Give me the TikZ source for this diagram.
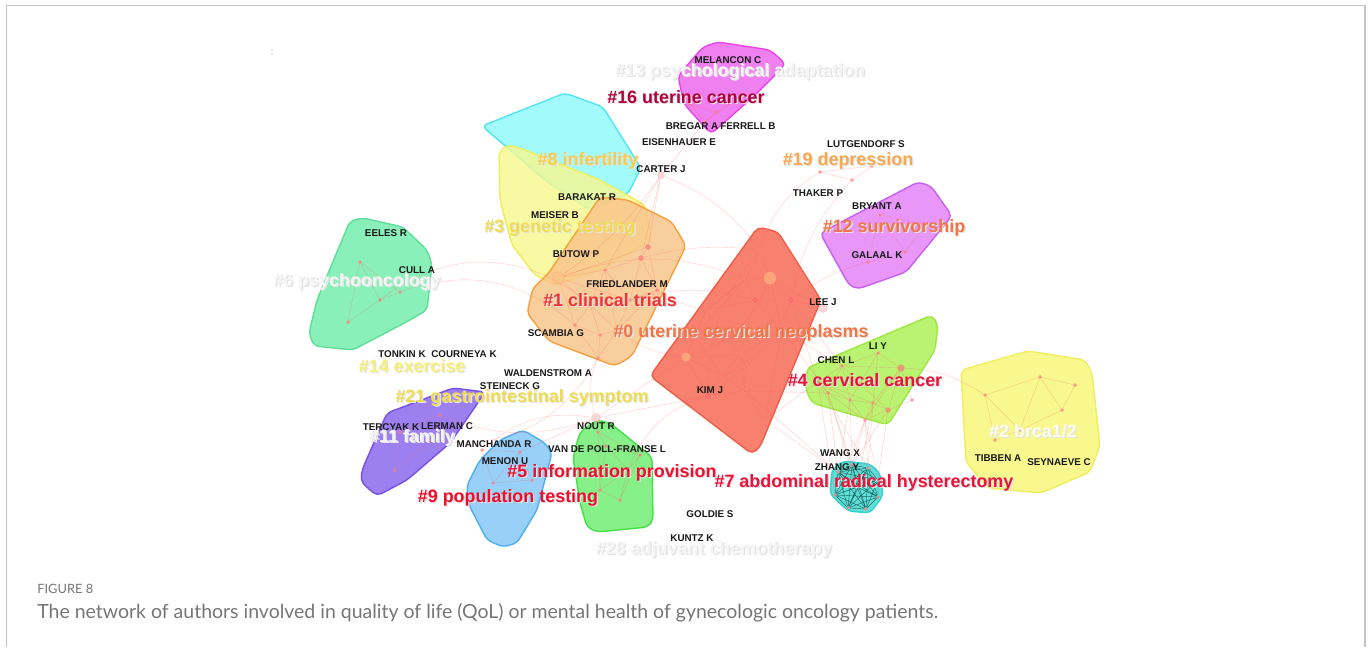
\documentclass[tikz,border=0pt]{standalone}
\usepackage{fontspec}
\setmainfont{Liberation Sans}
\newfontfamily\capfont{Lato}

\definecolor{framegray}{HTML}{C4C4C4}
\definecolor{capgray}{HTML}{767676}
\definecolor{cyanfill}{HTML}{A2FAFA}\definecolor{cyanline}{HTML}{52E6F0}
\definecolor{yelfill}{HTML}{F8F88E}\definecolor{yelline}{HTML}{F0EE5C}
\definecolor{orafill}{HTML}{F8C488}\definecolor{oraline}{HTML}{F6A03E}
\definecolor{redfill}{HTML}{F8806E}\definecolor{redline}{HTML}{F05E48}
\definecolor{limefill}{HTML}{BAF272}\definecolor{limeline}{HTML}{9EE842}
\definecolor{purfill}{HTML}{E896F8}\definecolor{purline}{HTML}{C860F0}
\definecolor{magfill}{HTML}{F080F0}\definecolor{magline}{HTML}{E844E8}
\definecolor{tealfill}{HTML}{5EE0D8}\definecolor{tealline}{HTML}{30D2D2}
\definecolor{mintfill}{HTML}{88F0B8}\definecolor{mintline}{HTML}{5EE098}
\definecolor{violfill}{HTML}{9C80F0}\definecolor{violline}{HTML}{7850E8}
\definecolor{bluefill}{HTML}{98D0F8}\definecolor{blueline}{HTML}{50AEF0}
\definecolor{grnfill}{HTML}{88F088}\definecolor{grnline}{HTML}{46E046}
\definecolor{crimson}{HTML}{E8143C}
\definecolor{darkcrimson}{HTML}{B0003C}
\definecolor{salmon}{HTML}{F07646}
\definecolor{tomato}{HTML}{F03436}
\definecolor{peach}{HTML}{F8A850}
\definecolor{gold}{HTML}{F8CC50}
\definecolor{lemon}{HTML}{F0DC50}
\definecolor{pale}{HTML}{F6F07A}

\tikzset{
  hull/.style={line width=0.8pt, rounded corners=3pt},
  author/.style={font=\bfseries\fontsize{5.6}{6}\selectfont, inner sep=0pt, text=black!90},
  cluster/.style={font=\bfseries\fontsize{10.2}{11}\selectfont, inner sep=0pt},
  shade/.style={cluster, text=black!11},
  vtx/.style={circle, inner sep=0pt, minimum size=2pt, fill=red!60, draw=red!40, line width=0.2pt, opacity=0.6},
  link/.style={red!60, line width=0.2pt, opacity=0.38},
  mesh/.style={black!60!teal, line width=0.25pt, opacity=0.7}
}

\begin{document}
\begin{tikzpicture}[x=0.02cm,y=-0.02cm]
\useasboundingbox (0,0) rectangle (1370,647);
\fill[white] (0,0) rectangle (1370,647);
\draw[framegray, line width=0.9pt] (6.5,647) -- (6.5,5.5) -- (1365,5.5) -- (1365,647);
\node[font=\fontsize{4}{4}\selectfont, inner sep=0pt, text=black!60] (tick) at (272,53) {;};

% cluster hulls
\draw[hull, draw=mintline, fill=mintfill] (337,252) -- (350,221) -- (363,218) -- (403,227) -- (427,250) -- (432,264) -- (427,310) -- (410,320) -- (353,350) -- (314,346) -- (309,333) -- (317,300) -- cycle;
\draw[hull, draw=violline, fill=violfill] (362,470) -- (387,413) -- (453,388) -- (485,392) -- (473,410) -- (450,443) -- (407,480) -- (377,496) -- (361,482) -- cycle;
\draw[hull, draw=blueline, fill=bluefill] (467,485) -- (480,460) -- (500,440) -- (523,430) -- (545,443) -- (552,453) -- (537,510) -- (517,543) -- (503,547) -- (487,540) -- (468,503) -- cycle;
\draw[hull, draw=grnline, fill=grnfill] (580,432) -- (597,420) -- (610,423) -- (652,457) -- (653,520) -- (648,527) -- (597,532) -- (587,527) -- (580,503) -- (573,457) -- cycle;
\draw[hull, draw=cyanline, fill=cyanfill] (482,126) -- (565,93) -- (603,107) -- (641,168) -- (628,194) -- (590,210) -- (545,180) -- cycle;
\draw[hull, draw=yelline, fill=yelfill, fill opacity=0.8] (499,152) -- (507,145) -- (520,148) -- (600,180) -- (645,205) -- (652,240) -- (600,270) -- (555,285) -- (535,275) -- (512,245) -- (500,200) -- cycle;
\draw[hull, draw=oraline, fill=orafill, fill opacity=0.82] (600,197) -- (628,200) -- (672,222) -- (686,246) -- (632,356) -- (615,366) -- (549,341) -- (527,313) -- (533,288) -- (548,274) -- cycle;
\draw[hull, draw=redline, fill=redfill] (650,376) -- (758,227) -- (778,232) -- (821,300) -- (760,447) -- (752,454) -- cycle;
\draw[hull, draw=limeline, fill=limefill] (807,368) -- (932,315) -- (938,325) -- (935,350) -- (888,425) -- (812,403) -- (806,390) -- cycle;
\draw[hull, draw=yelline, fill=yelfill] (961,370) -- (1028,351) -- (1085,360) -- (1092,373) -- (1100,446) -- (1090,472) -- (1041,493) -- (988,488) -- (966,462) -- cycle;
\draw[hull, draw=purline, fill=purfill] (820,233) -- (918,182) -- (931,186) -- (952,216) -- (906,272) -- (858,289) -- (849,285) -- cycle;
\draw[hull, draw=magline, fill=magfill] (678,76) -- (703,47) -- (718,42) -- (770,50) -- (786,64) -- (753,97) -- (711,134) -- (684,104) -- cycle;
\draw[hull, draw=tealline, fill=tealfill] (832,470) -- (843,461) -- (870,464) -- (880,473) -- (883,496) -- (870,513) -- (848,511) -- (830,494) -- cycle;

% network vertices
\node[vtx, minimum size=7pt, fill=orange!50] (o1) at (558,278) {};
\node[vtx, minimum size=3pt] (o2) at (648,247) {};
\node[vtx, minimum size=3pt] (o3) at (641,258) {};
\node[vtx] (o4) at (600,335) {};
\node[vtx] (o5) at (617,330) {};
\node[vtx] (o6) at (598,358) {};
\node[vtx] (o7) at (575,325) {};
\node[vtx] (o8) at (630,300) {};
\node[vtx] (o9) at (590,305) {};
\node[vtx] (o10) at (657,290) {};
\node[vtx] (o11) at (605,270) {};
\node[vtx, minimum size=7pt, fill=orange!50] (r1) at (770,278) {};
\node[vtx] (r2) at (746,279) {};
\node[vtx, minimum size=4pt] (r3) at (755,300) {};
\node[vtx, minimum size=4pt] (r4) at (791,300) {};
\node[vtx] (r5) at (706,310) {};
\node[vtx, minimum size=4pt] (r6) at (782,330) {};
\node[vtx, minimum size=5pt, fill=orange!50] (r7) at (686,357) {};
\node[vtx] (r8) at (740,355) {};
\node[vtx] (r9) at (746,367) {};
\node[vtx] (r10) at (745,391) {};
\node[vtx] (r11) at (722,376) {};
\node[vtx, minimum size=4pt] (r12) at (708,396) {};
\node[vtx] (r13) at (760,250) {};
\node[vtx] (r14) at (695,335) {};
\node[vtx] (r15) at (765,420) {};
\node[vtx, minimum size=5pt, fill=pink] (lj) at (823,308) {};
\node[vtx] (l1) at (878,353) {};
\node[vtx] (l2) at (842,366) {};
\node[vtx, minimum size=4pt] (l3) at (901,368) {};
\node[vtx] (l4) at (828,393) {};
\node[vtx] (l5) at (850,400) {};
\node[vtx] (l6) at (873,403) {};
\node[vtx, minimum size=3pt] (l7) at (888,410) {};
\node[vtx] (l8) at (912,400) {};
\node[vtx] (l9) at (865,420) {};
\node[vtx] (l10) at (818,382) {};
\node[vtx] (t1) at (838,472) {};
\node[vtx] (t2) at (852,465) {};
\node[vtx] (t3) at (868,468) {};
\node[vtx] (t4) at (878,480) {};
\node[vtx] (t5) at (878,497) {};
\node[vtx] (t6) at (866,509) {};
\node[vtx] (t7) at (848,508) {};
\node[vtx] (t8) at (835,495) {};
\node[vtx] (t9) at (857,487) {};
\node[vtx, minimum size=5pt, fill=pink] (nr) at (596,418) {};
\node[vtx, minimum size=4pt, fill=pink] (cj) at (661,175) {};
\node[vtx] (b1) at (482,450) {};
\node[vtx] (b2) at (520,452) {};
\node[vtx] (b3) at (493,483) {};
\node[vtx] (b4) at (532,480) {};
\node[vtx] (g1) at (598,432) {};
\node[vtx] (g2) at (606,446) {};
\node[vtx] (g3) at (628,470) {};
\node[vtx] (g4) at (620,500) {};
\node[vtx] (g5) at (600,490) {};
\node[vtx] (g6) at (640,455) {};
\node[vtx] (y1) at (985,395) {};
\node[vtx] (y2) at (1040,377) {};
\node[vtx] (y3) at (1075,385) {};
\node[vtx] (y4) at (1020,430) {};
\node[vtx] (y5) at (995,440) {};
\node[vtx] (y6) at (1062,410) {};
\node[vtx] (m1) at (690,104) {};
\node[vtx] (m2) at (716,112) {};
\node[vtx] (m3) at (736,100) {};
\node[vtx] (m4) at (705,122) {};
\node[vtx] (p1) at (880,215) {};
\node[vtx] (p2) at (905,252) {};
\node[vtx] (p3) at (868,262) {};
\node[vtx] (p4) at (925,225) {};
\node[vtx] (e1) at (360,262) {};
\node[vtx] (e2) at (400,292) {};
\node[vtx] (e3) at (348,322) {};
\node[vtx] (e4) at (380,300) {};
\node[vtx] (f1) at (400,432) {};
\node[vtx] (f2) at (432,440) {};
\node[vtx] (f3) at (395,470) {};
\node[vtx] (f4) at (440,415) {};
\node[vtx] (d1) at (820,172) {};
\node[vtx] (d2) at (852,180) {};
\node[vtx] (d3) at (872,166) {};

% co-authorship links
\draw[link] (o1) -- (o2) -- (o3) -- (o11) -- (o1) -- (o9) -- (o4) -- (o5) -- (o8) -- (o10) -- (o2);
\draw[link] (o1) -- (o7) -- (o4) -- (o6) -- (o5) -- (o11) -- (o8) -- (o9) -- (o7) -- (o6);
\draw[link] (o1) -- (o8) -- (o3) -- (o10) -- (o5) -- (o9) -- (o11);
\draw[link] (r1) -- (r2) -- (r3) -- (r4) -- (r1) -- (r13) -- (r2) -- (r5) -- (r14) -- (r7) -- (r11) -- (r9) -- (r8) -- (r3);
\draw[link] (r1) -- (r6) -- (r8) -- (r10) -- (r12) -- (r11) -- (r8) -- (r5) -- (r3) -- (r6) -- (r4) -- (lj) -- (r1);
\draw[link] (r7) -- (r8) -- (r9) -- (r10) -- (r15) -- (r6) -- (r9) -- (r12) -- (r7) -- (r5) -- (r2) -- (r14) -- (r11) -- (r10);
\draw[link] (r1) to[bend left=25] (r7);
\draw[link] (r13) to[bend right=20] (r12);
\draw[link] (r4) to[bend left=20] (r11);
\draw[link] (l1) -- (l2) -- (l10) -- (l4) -- (l5) -- (l6) -- (l7) -- (l8) -- (l3) -- (l1) -- (l6) -- (l9) -- (l5) -- (l2) -- (l3) -- (l7) -- (l9);
\draw[link] (l1) -- (l5) -- (l10) -- (l6) -- (l3) -- (l9) -- (l4) -- (l2) -- (l7);
\draw[mesh] (t1) -- (t3) -- (t5) -- (t7) -- (t1) -- (t4) -- (t7) -- (t2) -- (t5) -- (t8) -- (t3) -- (t6) -- (t1) -- (t9) -- (t4) -- (t6) -- (t8) -- (t2) -- (t9) -- (t6);
\draw[mesh] (t1) -- (t2) -- (t3) -- (t4) -- (t5) -- (t6) -- (t7) -- (t8) -- (t1) -- (t5) -- (t9) -- (t3) -- (t7) -- (t9) -- (t8) -- (t4) -- (t2) -- (t6);
\draw[link] (l4) -- (t1) -- (l5) -- (t2) -- (l9) -- (t3) -- (l6) -- (t9) -- (l4) -- (t2) -- (l7) -- (t4) -- (l9) -- (t8) -- (l10) -- (t3);
\draw[link] (r6) -- (l2) -- (r4) -- (l10) -- (r15) -- (t1) -- (r10) -- (l4) -- (r6);
\draw[link] (o1) to[bend left=20] (r2);
\draw[link] (o3) to[bend left=10] (r13);
\draw[link] (o10) to[bend right=10] (r5);
\draw[link] (o5) to[bend right=15] (r7);
\draw[link] (o8) to[bend left=15] (r3);
\draw[link] (o6) to[bend right=20] (nr);
\draw[link] (r7) -- (nr) -- (r12);
\draw[link] (nr) -- (g1) -- (g2) -- (g6) -- (g3) -- (g4) -- (g5) -- (g2) -- (g3) -- (g5) -- (g1) -- (g6) -- (g4);
\draw[link] (nr) -- (b2) -- (b1) -- (b3) -- (b4) -- (b2) -- (b3);
\draw[link] (nr) to[bend right=25] (b1);
\draw[link] (nr) to[bend left=20] (f4);
\draw[link] (f1) -- (f2) -- (f3) -- (f1) -- (f4) -- (f2);
\draw[link] (e1) -- (e2) -- (e4) -- (e3) -- (e1) -- (e4);
\draw[link] (o7) to[bend right=30] (e2);
\draw[link] (o6) to[bend left=35] (f2);
\draw[link] (cj) -- (o2) -- (cj) -- (o11) -- (cj) -- (o3);
\draw[link] (cj) to[bend left=15] (r13);
\draw[link] (cj) -- (m4) -- (m1) -- (m2) -- (m3) -- (m4) -- (m2);
\draw[link] (cj) to[bend left=10] (o1);
\draw[link] (d1) -- (d2) -- (d3) -- (d1);
\draw[link] (r13) to[bend left=20] (d1);
\draw[link] (r4) to[bend left=15] (d2);
\draw[link] (p1) -- (p2) -- (p3) -- (p1) -- (p4) -- (p2);
\draw[link] (r4) to[bend left=10] (p3);
\draw[link] (y1) -- (y2) -- (y3) -- (y6) -- (y4) -- (y5) -- (y1) -- (y4) -- (y2) -- (y6);
\draw[link] (l3) to[bend left=15] (y1);
\draw[link] (o9) to[bend right=40] (e4);
\draw[link] (r12) to[bend right=25] (g3);

% author labels
\node[author] (melancon) at (728,60) {MELANCON C};
\node[author] (bregar) at (692,126) {BREGAR A};
\node[author] (ferrell) at (748,126) {FERRELL B};
\node[author] (eisenhauer) at (679,142) {EISENHAUER E};
\node[author] (carter) at (661,169) {CARTER J};
\node[author] (lutgendorf) at (866,144) {LUTGENDORF S};
\node[author] (thaker) at (818,193) {THAKER P};
\node[author] (bryant) at (877,206) {BRYANT A};
\node[author] (galaal) at (877,255) {GALAAL K};
\node[author] (barakat) at (587,197) {BARAKAT R};
\node[author] (meiser) at (555,215) {MEISER B};
\node[author] (eeles) at (386,233) {EELES R};
\node[author] (cull) at (417,270) {CULL A};
\node[author] (butow) at (576,254) {BUTOW P};
\node[author] (friedlander) at (627,284) {FRIEDLANDER M};
\node[author] (lee) at (823,302) {LEE J};
\node[author] (scambia) at (556,333) {SCAMBIA G};
\node[author] (li) at (878,346) {LI Y};
\node[author] (chen) at (836,360) {CHEN L};
\node[author] (tonkin) at (402,354) {TONKIN K};
\node[author] (courneya) at (464,354) {COURNEYA K};
\node[author] (waldenstrom) at (548,373) {WALDENSTROM A};
\node[author] (steineck) at (510,386) {STEINECK G};
\node[author] (kim) at (710,390) {KIM J};
\node[author] (tercyak) at (391,427) {TERCYAK K};
\node[author] (lerman) at (447,426) {LERMAN C};
\node[author] (nout) at (596,426) {NOUT R};
\node[author] (manchanda) at (494,444) {MANCHANDA R};
\node[author] (vandepoll) at (607,449) {VAN DE POLL-FRANSE L};
\node[author] (menon) at (505,461) {MENON U};
\node[author] (wang) at (840,453) {WANG X};
\node[author] (zhang) at (837,467) {ZHANG Y};
\node[author] (tibben) at (998,458) {TIBBEN A};
\node[author] (seynaeve) at (1059,462) {SEYNAEVE C};
\node[author] (goldie) at (710,514) {GOLDIE S};
\node[author] (kuntz) at (692,538) {KUNTZ K};

% cluster labels
\node[shade] (c13s) at (741.3,73.3) {\#13 psychological adaptation};
\node[cluster, text=white!96!black] (c13) at (740,72) {\#13 psychological adaptation};
\node[shade] (c16s) at (687.3,98.3) {\#16 uterine cancer};
\node[cluster, text=darkcrimson] (c16) at (686,97) {\#16 uterine cancer};
\node[shade] (c8s) at (589.3,162.3) {\#8 infertility};
\node[cluster, text=gold] (c8) at (588,161) {\#8 infertility};
\node[shade] (c19s) at (849.3,162.3) {\#19 depression};
\node[cluster, text=peach] (c19) at (848,161) {\#19 depression};
\node[shade] (c3s) at (561.3,229.3) {\#3 genetic testing};
\node[cluster, text=lemon] (c3) at (560,228) {\#3 genetic testing};
\node[shade] (c12s) at (895.3,229.3) {\#12 survivorship};
\node[cluster, text=salmon] (c12) at (894,228) {\#12 survivorship};
\node[shade] (c6s) at (358.3,283.3) {\#6 psychooncology};
\node[cluster, text=white!96!black] (c6) at (357,282) {\#6 psychooncology};
\node[shade] (c1s) at (611.3,301.3) {\#1 clinical trials};
\node[cluster, text=tomato] (c1) at (610,300) {\#1 clinical trials};
\node[shade] (c0s) at (742.3,334.3) {\#0 uterine cervical neoplasms};
\node[cluster, text=salmon] (c0) at (741,333) {\#0 uterine cervical neoplasms};
\node[shade] (c14s) at (413.3,367.3) {\#14 exercise};
\node[cluster, text=pale] (c14) at (412,366) {\#14 exercise};
\node[shade] (c4s) at (866.3,381.3) {\#4 cervical cancer};
\node[cluster, text=crimson] (c4) at (865,380) {\#4 cervical cancer};
\node[shade] (c21s) at (523.3,399.3) {\#21 gastrointestinal symptom};
\node[cluster, text=lemon] (c21) at (522,398) {\#21 gastrointestinal symptom};
\node[shade] (c11s) at (413.3,439.3) {\#11 family};
\node[cluster, text=white!96!black] (c11) at (412,438) {\#11 family};
\node[shade] (c2s) at (1034.3,432.3) {\#2 brca1/2};
\node[cluster, text=white!92!yellow] (c2) at (1033,431) {\#2 brca1/2};
\node[shade] (c5s) at (613.3,474.3) {\#5 information provision};
\node[cluster, text=crimson!80!red] (c5) at (612,473) {\#5 information provision};
\node[shade] (c7s) at (865.3,484.3) {\#7 abdominal radical hysterectomy};
\node[cluster, text=crimson] (c7) at (864,483) {\#7 abdominal radical hysterectomy};
\node[shade] (c9s) at (509.3,499.3) {\#9 population testing};
\node[cluster, text=crimson!70!red] (c9) at (508,498) {\#9 population testing};
\node[shade] (c28s) at (715.3,551.3) {\#28 adjuvant chemotherapy};
\node[cluster, text=white!96!black] (c28) at (714,550) {\#28 adjuvant chemotherapy};

% caption
\node[anchor=west, inner sep=0pt, text=capgray, font=\capfont\fontsize{7.3}{8}\selectfont] (fig) at (37,589) {FIGURE 8};
\node[anchor=west, inner sep=0pt, text=capgray, font=\capfont\fontsize{8.5}{10}\selectfont] (caption) at (37,613) {\resizebox{18.02cm}{!}{The network of authors involved in quality of life (QoL) or mental health of gynecologic oncology patients.}};
\end{tikzpicture}
\end{document}
